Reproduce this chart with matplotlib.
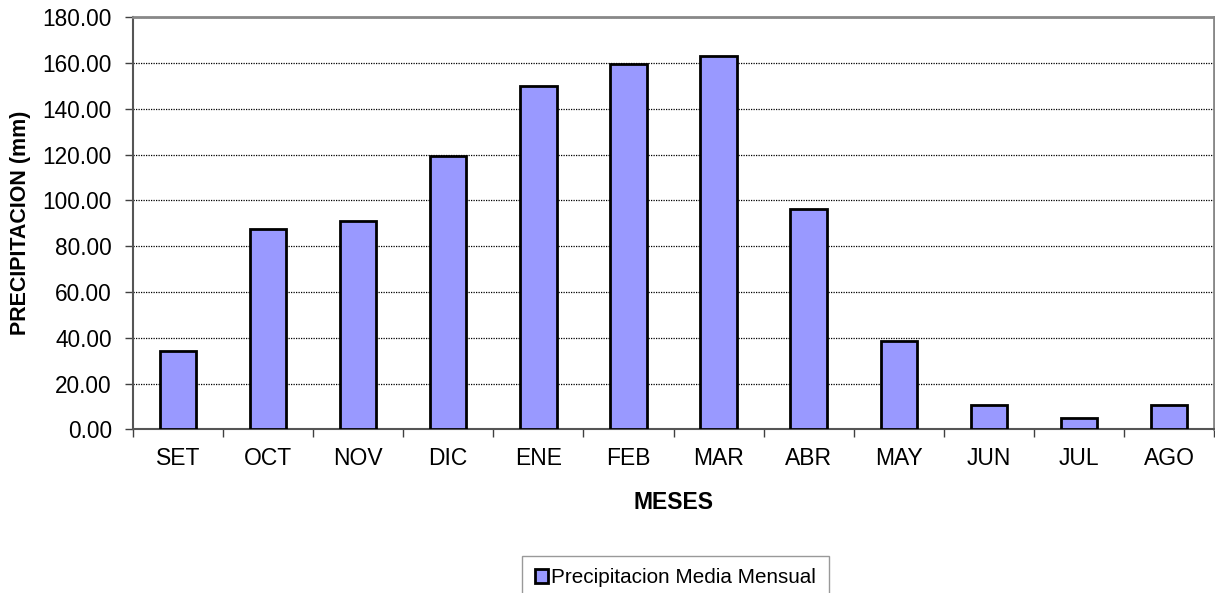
import matplotlib
matplotlib.use("Agg")
import matplotlib.pyplot as plt
from matplotlib.patches import Patch
import numpy as np

meses = ["SET", "OCT", "NOV", "DIC", "ENE", "FEB", "MAR", "ABR", "MAY", "JUN", "JUL", "AGO"]
precip = [34.4, 87.6, 91.0, 119.6, 149.8, 159.4, 163.0, 96.1, 38.4, 10.5, 4.8, 10.5]
yticks = [0, 20, 40, 60, 80, 100, 120, 140, 160, 180]
serie = "Precipitacion Media Mensual"

plt.rcParams['font.family'] = ['Liberation Sans', 'DejaVu Sans']

W, H = 1215, 593
fig = plt.figure(figsize=(W / 100, H / 100), dpi=100)
l, r, t, b = 132.7, 1214.3, 17.3, 429.3
ax = fig.add_axes([l / W, 1 - b / H, (r - l) / W, (b - t) / H])

x = np.arange(len(meses))
bar_color = "#9999FF"
ax.bar(x, precip, width=0.405, color=bar_color, edgecolor="black", linewidth=2.0, zorder=3)

ax.set_xlim(-0.5, len(meses) - 0.5)
ax.set_ylim(0, 180)
ax.set_yticks(yticks)
ax.set_yticklabels([f"{v:.2f}" for v in yticks], fontsize=16.3)
ax.set_xticks(x)
ax.set_xticklabels(meses, fontsize=16.5)
ax.set_xticks(np.arange(len(meses) + 1) - 0.5, minor=True)
ax.tick_params(axis='x', which='major', length=0, pad=12.5)
ax.tick_params(axis='x', which='minor', length=6, width=1, color="#404040", direction='out')
ax.tick_params(axis='y', length=6, width=1, color="#404040", direction='out', pad=9)

ax.yaxis.grid(True, linestyle=(0, (1, 1)), color="black", linewidth=0.9, zorder=0)
ax.set_axisbelow(True)

for side in ["top", "right"]:
    ax.spines[side].set_color("#888888")
    ax.spines[side].set_linewidth(2.0)
for side in ["left", "bottom"]:
    ax.spines[side].set_color("#555555")
    ax.spines[side].set_linewidth(1.5)

ax.set_ylabel("PRECIPITACION (mm)", fontsize=15.5, fontweight="bold", labelpad=8.5)
ax.set_xlabel("MESES", fontsize=16.5, fontweight="bold", labelpad=15.5)

handle = Patch(facecolor=bar_color, edgecolor="black", linewidth=2.0)
leg = fig.legend([handle], [serie], loc="upper center",
                 bbox_to_anchor=(675.5 / W, 1 - 556 / H), fontsize=14.9,
                 frameon=True, fancybox=False, edgecolor="#808080",
                 handlelength=0.65, handleheight=0.65, handletextpad=0.15,
                 borderpad=0.6, borderaxespad=0)
leg.get_frame().set_linewidth(1.0)

fig.savefig("out.png", dpi=100)
